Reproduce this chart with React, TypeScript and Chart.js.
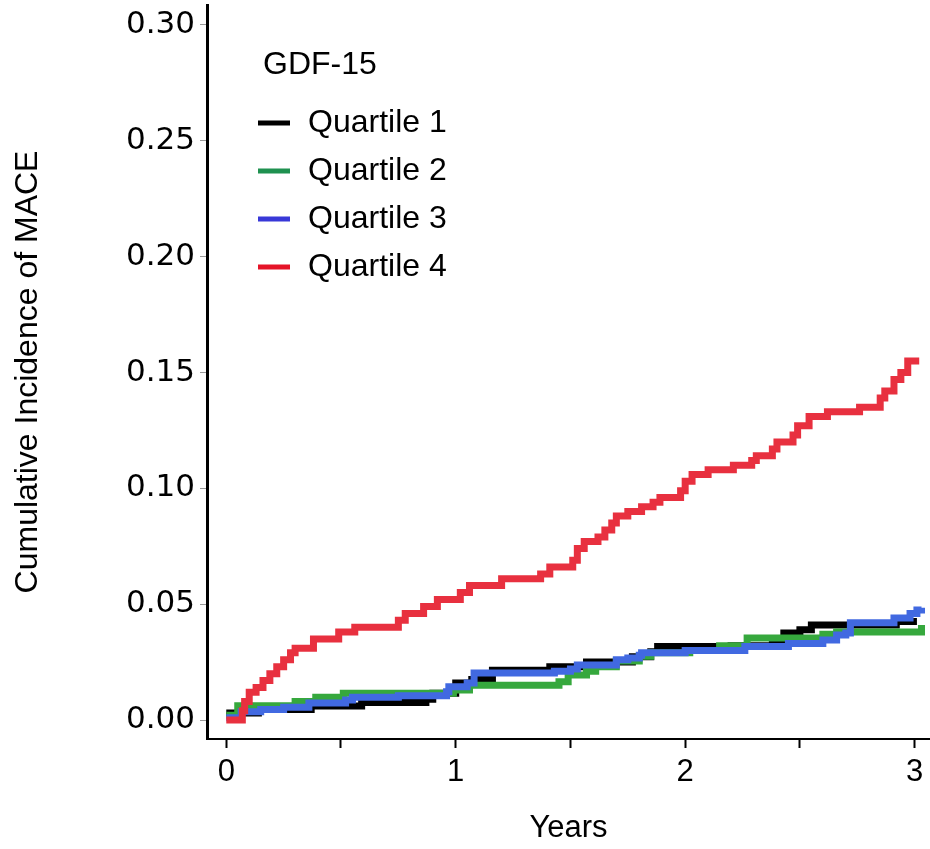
import React, { useEffect, useRef } from 'react';
import { Chart, registerables } from 'chart.js';

Chart.register(...registerables);

const legendTitle = 'GDF-15';
const seriesLabels = ['Quartile 1', 'Quartile 2', 'Quartile 3', 'Quartile 4'];
const xTickValues = [0, 0.5, 1, 1.5, 2, 2.5, 3];
const yTickValues = [0, 0.05, 0.1, 0.15, 0.2, 0.25, 0.3];
const xTitle = 'Years';
const yTitle = 'Cumulative Incidence of MACE';

// Quartile 1 (black)
const q1Times = [0, 0.14, 0.37, 0.59, 0.87, 0.9, 1.0, 1.07, 1.16, 1.41, 1.57, 1.77, 1.85, 1.88, 2.2, 2.38, 2.43, 2.5, 2.55, 2.92, 3.01];
const q1Values = [0.003, 0.0045, 0.006, 0.0075, 0.009, 0.0115, 0.016, 0.0175, 0.0215, 0.023, 0.025, 0.0273, 0.0295, 0.0317, 0.032, 0.0335, 0.0375, 0.039, 0.041, 0.0425, 0.0425];

// Quartile 2 (green)
const q2Times = [0, 0.05, 0.3, 0.39, 0.51, 0.99, 1.06, 1.45, 1.49, 1.57, 1.61, 1.7, 1.8, 1.85, 2.02, 2.15, 2.27, 2.6, 2.66, 3.03];
const q2Values = [0.002, 0.0062, 0.008, 0.0098, 0.0115, 0.013, 0.015, 0.0165, 0.0194, 0.021, 0.023, 0.0255, 0.0275, 0.029, 0.03, 0.032, 0.0354, 0.037, 0.038, 0.041];

// Quartile 3 (blue)
const q3Times = [0, 0.065, 0.15, 0.25, 0.36, 0.52, 0.55, 0.75, 0.96, 0.97, 1.05, 1.08, 1.43, 1.5, 1.53, 1.7, 1.75, 1.8, 1.81, 2.0, 2.26, 2.45, 2.6, 2.66, 2.7, 2.72, 2.91, 2.98, 3.01, 3.03];
const q3Values = [0.001, 0.0036, 0.0045, 0.0055, 0.0073, 0.0086, 0.0098, 0.0105, 0.0122, 0.0144, 0.016, 0.0203, 0.021, 0.022, 0.0237, 0.026, 0.0268, 0.028, 0.029, 0.03, 0.0317, 0.033, 0.0345, 0.0367, 0.0375, 0.042, 0.044, 0.046, 0.0475, 0.0485];

// Quartile 4 (red)
const q4Times = [0, 0.07, 0.08, 0.1, 0.13, 0.16, 0.19, 0.22, 0.25, 0.28, 0.3, 0.38, 0.49, 0.56, 0.75, 0.78, 0.86, 0.92, 1.02, 1.06, 1.2, 1.37, 1.41, 1.51, 1.53, 1.56, 1.62, 1.65, 1.68, 1.7, 1.75, 1.81, 1.86, 1.89, 1.98, 2.0, 2.03, 2.1, 2.21, 2.29, 2.31, 2.38, 2.4, 2.47, 2.49, 2.54, 2.62, 2.76, 2.85, 2.87, 2.91, 2.94, 2.97, 3.02];
const q4Values = [0, 0.004, 0.008, 0.012, 0.014, 0.017, 0.02, 0.023, 0.026, 0.029, 0.031, 0.035, 0.038, 0.04, 0.043, 0.046, 0.049, 0.052, 0.055, 0.058, 0.061, 0.063, 0.066, 0.069, 0.074, 0.077, 0.079, 0.082, 0.085, 0.088, 0.09, 0.092, 0.094, 0.096, 0.099, 0.103, 0.106, 0.108, 0.11, 0.112, 0.114, 0.117, 0.12, 0.123, 0.127, 0.131, 0.133, 0.135, 0.139, 0.142, 0.147, 0.15, 0.155, 0.155];

const lineColors = ['#000000', '#36a83d', '#4169e1', '#e8303f'];
const legendColors = ['#000000', '#1f9150', '#3838d8', '#e51428'];
const drawOrder = [3, 2, 1, 0];

const ARIAL = '"Liberation Sans", Arial, sans-serif';
const VERDANA = '"DejaVu Sans", Verdana, sans-serif';

const toPoints = (t: number[], v: number[]) => t.map((x, i) => ({ x, y: v[i] }));

const legendPlugin = {
  id: 'gdfLegend',
  afterDraw(chart: any) {
    const { ctx, chartArea } = chart;
    const left = chartArea.left;
    const top = chartArea.top;
    ctx.save();
    ctx.font = `32px ${ARIAL}`;
    ctx.fillStyle = '#000';
    ctx.textBaseline = 'middle';
    ctx.textAlign = 'left';
    ctx.fillText(legendTitle, left + 56, top + 60);
    chart.data.datasets.forEach((ds: any, i: number) => {
      const y = top + 118 + i * 48;
      ctx.fillStyle = legendColors[i];
      ctx.fillRect(left + 51, y - 2.5, 32, 5);
      ctx.fillStyle = '#000';
      ctx.fillText(ds.label, left + 101, y);
    });
    ctx.restore();
  },
};

export default function App() {
  const canvasRef = useRef<HTMLCanvasElement | null>(null);

  useEffect(() => {
    const canvas = canvasRef.current;
    if (!canvas) return;
    const series = [
      toPoints(q1Times, q1Values),
      toPoints(q2Times, q2Values),
      toPoints(q3Times, q3Values),
      toPoints(q4Times, q4Values),
    ];
    const chart = new Chart(canvas, {
      type: 'line',
      data: {
        datasets: series.map((data, i) => ({
          label: seriesLabels[i],
          data,
          borderColor: lineColors[i],
          backgroundColor: lineColors[i],
          borderWidth: 7,
          stepped: true,
          pointRadius: 0,
          fill: false,
          borderJoinStyle: 'miter',
          borderCapStyle: 'butt',
          order: drawOrder[i],
        })),
      },
      options: {
        animation: false,
        responsive: false,
        maintainAspectRatio: false,
        layout: { padding: { top: 5, left: 0, right: 0, bottom: 0 } },
        plugins: {
          legend: { display: false },
          tooltip: { enabled: false },
        },
        scales: {
          x: {
            type: 'linear',
            min: -0.084,
            max: 3.067,
            afterBuildTicks: (s: any) => {
              s.ticks = xTickValues.map((v) => ({ value: v }));
            },
            afterFit: (s: any) => {
              s.height = 110;
              s.paddingLeft = 0;
              s.paddingRight = 0;
            },
            border: { display: true, color: '#000', width: 2 },
            grid: {
              display: true,
              drawOnChartArea: false,
              drawTicks: true,
              tickLength: 9,
              tickWidth: 2,
              tickColor: '#000',
            },
            ticks: {
              autoSkip: false,
              maxRotation: 0,
              padding: 6,
              color: '#000',
              font: { family: ARIAL, size: 31 },
              callback: (v: any) => (Number.isInteger(v) ? String(v) : ''),
            },
            title: {
              display: true,
              text: xTitle,
              color: '#000',
              font: { family: ARIAL, size: 31 },
              padding: { top: 0, bottom: 2 },
            },
          },
          y: {
            type: 'linear',
            min: -0.0082,
            max: 0.3086,
            afterBuildTicks: (s: any) => {
              s.ticks = yTickValues.map((v) => ({ value: v }));
            },
            afterFit: (s: any) => {
              s.width = 207;
              s.paddingTop = 0;
              s.paddingBottom = 0;
            },
            border: { display: true, color: '#000', width: 3 },
            grid: {
              display: true,
              drawOnChartArea: false,
              drawTicks: true,
              tickLength: 7,
              tickWidth: 1,
              tickColor: '#999',
            },
            ticks: {
              autoSkip: false,
              padding: 5,
              color: '#000',
              font: { family: VERDANA, size: 31 },
              callback: (v: any) => Number(v).toFixed(2),
            },
            title: {
              display: true,
              text: yTitle,
              color: '#000',
              font: { family: ARIAL, size: 32 },
              padding: { top: 9, bottom: 0 },
            },
          },
        },
      },
      plugins: [legendPlugin],
    } as any);
    return () => chart.destroy();
  }, []);

  return (
    <div style={{ position: 'fixed', left: 0, top: 0, width: 930, height: 849, background: '#fff' }}>
      <canvas ref={canvasRef} width={930} height={849} style={{ display: 'block', width: 930, height: 849 }} />
    </div>
  );
}
